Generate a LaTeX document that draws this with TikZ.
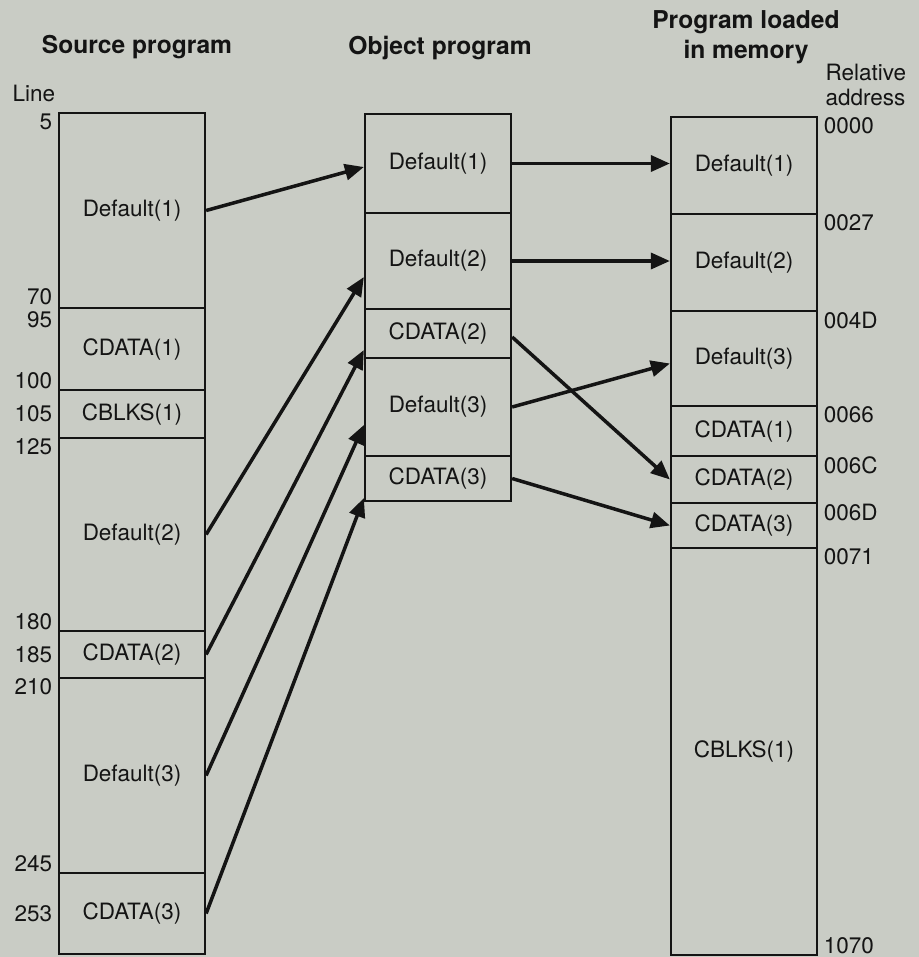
\documentclass[tikz,border=0pt]{standalone}
\usepackage{fontspec}
\setmainfont{TeX Gyre Heros}
\usetikzlibrary{arrows.meta,positioning}
\definecolor{paper}{RGB}{201,204,197}
\definecolor{ink}{RGB}{20,20,20}

\tikzset{
  seg/.style={draw=ink, line width=1.3pt, minimum width=2.92cm, inner sep=0pt,
    font=\fontsize{12.8}{15}\selectfont},
  num/.style={inner xsep=3pt, inner ysep=1pt, font=\fontsize{12.8}{14.2}\selectfont},
  head/.style={font=\fontsize{14}{17}\selectfont\bfseries, align=center},
  link/.style={draw=ink, line width=2pt, -{Triangle[length=3.8mm,width=3.2mm]}}
}

\begin{document}
\begin{tikzpicture}[x=0.02cm, y=-0.02cm, text=ink]
  \fill[paper] (0,0) rectangle (919,957);
  \useasboundingbox (0,0) rectangle (919,957);

  % Headings
  \node[head] (hsrc) at (137,47) {Source program};
  \node[head] (hobj) at (440,48) {Object program};
  \node[head] (hmem) at (746,37) {Program loaded\\in memory};
  \node[num, anchor=west] (hline) at (7,93) {Line};
  \node[num, anchor=west, align=left] (haddr) at (820,85) {Relative\\address};

  % Source program
  \node[seg, minimum height=3.90cm] (sd1) at (132,210.5) {Default(1)};
  \node[seg, minimum height=1.64cm] (sc1) at (132,349) {CDATA(1)};
  \node[seg, minimum height=0.96cm] (sb1) at (132,414) {CBLKS(1)};
  \node[seg, minimum height=3.86cm] (sd2) at (132,534.5) {Default(2)};
  \node[seg, minimum height=0.94cm] (sc2) at (132,654.5) {CDATA(2)};
  \node[seg, minimum height=3.90cm] (sd3) at (132,775.5) {Default(3)};
  \node[seg, minimum height=1.62cm] (sc3) at (132,913.5) {CDATA(3)};

  % Line numbers
  \node[num, anchor=north east] (n5)   at (sd1.north west) {5};
  \node[num, anchor=south east, yshift=1.2pt] (n70) at (sd1.south west) {70};
  \node[num, anchor=north east, yshift=-1.2pt] (n95) at (sc1.north west) {95};
  \node[num, anchor=south east] (n100) at (sc1.south west) {100};
  \node[num, anchor=east]       (n105) at (sb1.west) {105};
  \node[num, anchor=north east] (n125) at (sd2.north west) {125};
  \node[num, anchor=south east] (n180) at (sd2.south west) {180};
  \node[num, anchor=east]       (n185) at (sc2.west) {185};
  \node[num, anchor=north east] (n210) at (sd3.north west) {210};
  \node[num, anchor=south east] (n245) at (sd3.south west) {245};
  \node[num, anchor=east]       (n253) at (sc3.west) {253};

  % Object program
  \node[seg, minimum height=1.98cm] (od1) at (438,163.5) {Default(1)};
  \node[seg, minimum height=1.92cm] (od2) at (438,261) {Default(2)};
  \node[seg, minimum height=0.98cm] (oc2) at (438,333.5) {CDATA(2)};
  \node[seg, minimum height=1.96cm] (od3) at (438,407) {Default(3)};
  \node[seg, minimum height=0.90cm] (oc3) at (438,478.5) {CDATA(3)};

  % Program loaded in memory
  \node[seg, minimum height=1.94cm] (md1) at (744,165.5) {Default(1)};
  \node[seg, minimum height=1.94cm] (md2) at (744,262.5) {Default(2)};
  \node[seg, minimum height=1.90cm] (md3) at (744,358.5) {Default(3)};
  \node[seg, minimum height=1.00cm] (mc1) at (744,431) {CDATA(1)};
  \node[seg, minimum height=0.94cm] (mc2) at (744,479.5) {CDATA(2)};
  \node[seg, minimum height=0.90cm] (mc3) at (744,525.5) {CDATA(3)};
  \node[seg, minimum height=8.14cm] (mb1) at (744,751.5) {CBLKS(1)};

  % Relative addresses
  \node[num, anchor=north west] (a0000) at (md1.north east) {0000};
  \node[num, anchor=north west] (a0027) at (md2.north east) {0027};
  \node[num, anchor=north west] (a004D) at (md3.north east) {004D};
  \node[num, anchor=north west] (a0066) at (mc1.north east) {0066};
  \node[num, anchor=north west] (a006C) at (mc2.north east) {006C};
  \node[num, anchor=north west] (a006D) at (mc3.north east) {006D};
  \node[num, anchor=north west] (a0071) at (mb1.north east) {0071};
  \node[num, anchor=south west] (a1070) at (mb1.south east) {1070};

  % Source -> object
  \draw[link] (sd1.east) -- ([yshift=-0.07cm]od1.west);
  \draw[link] (sd2.east) -- ([yshift=-0.32cm]od2.west);
  \draw[link] (sc2.east) -- ([yshift=-0.33cm]oc2.west);
  \draw[link] (sd3.east) -- ([yshift=-0.36cm]od3.west);
  \draw[link] (sc3.east) -- ([yshift=-0.39cm]oc3.west);

  % Object -> memory
  \draw[link] (od1.east) -- (od1.east -| md1.west);
  \draw[link] (od2.east) -- (od2.east -| md2.west);
  \draw[link] ([yshift=-0.07cm]oc2.east) -- (mc2.west);
  \draw[link] (od3.east) -- ([yshift=-0.1cm]md3.west);
  \draw[link] (oc3.east) -- (mc3.west);
\end{tikzpicture}
\end{document}
